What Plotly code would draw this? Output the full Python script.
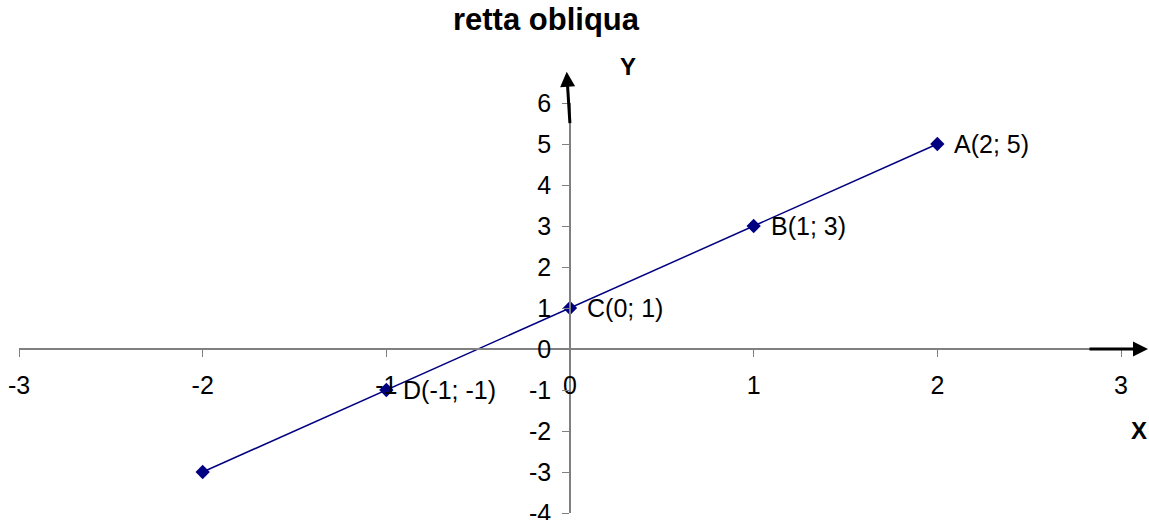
import plotly.graph_objects as go

x_vals = [-2, -1, 0, 1, 2]
y_vals = [-3, -1, 1, 3, 5]
point_labels = ["", "D(-1; -1)", "C(0; 1)", "B(1; 3)", "A(2; 5)"]
x_ticks = [-3, -2, -1, 0, 1, 2, 3]
x_tick_labels = ["-3", "-2", "-1", "0", "1", "2", "3"]
y_ticks = [-4, -3, -2, -1, 0, 1, 2, 3, 4, 5, 6]
y_tick_labels = ["-4", "-3", "-2", "-1", "0", "1", "2", "3", "4", "5", "6"]

FONT = "Liberation Sans, Arial, sans-serif"
NAVY = "#000080"
GRAY = "#808080"

fig = go.Figure()
fig.add_trace(go.Scatter(
    x=x_vals, y=y_vals, mode="lines+markers",
    line=dict(color=NAVY, width=1.5),
    marker=dict(symbol="diamond", size=11, color=NAVY),
    cliponaxis=False, showlegend=False,
))

annotations = []
for xv, yv, lab in zip(x_vals, y_vals, point_labels):
    if lab:
        annotations.append(dict(
            text=lab, x=xv, y=yv, xref="x", yref="y",
            xanchor="left", yanchor="middle", xshift=15, showarrow=False,
            font=dict(family=FONT, size=25, color="black")))

annotations += [
    dict(text="<b>Y</b>", xref="paper", yref="paper", x=0.5522, y=1.089,
         xanchor="center", yanchor="middle",
         showarrow=False, font=dict(family=FONT, size=24, color="black")),
    dict(text="<b>X</b>", xref="paper", yref="paper", x=1.0163, y=0.2024,
         xanchor="center", yanchor="middle",
         showarrow=False, font=dict(family=FONT, size=24, color="black")),
    dict(text="", xref="paper", yref="paper", x=0.497, y=1.0763,
         ax=3.3, ay=53, showarrow=True, arrowhead=2, arrowsize=1,
         arrowwidth=3, arrowcolor="black"),
    dict(text="", xref="paper", yref="paper", x=1.0245, y=0.4,
         ax=-60, ay=0, showarrow=True, arrowhead=2, arrowsize=1,
         arrowwidth=3, arrowcolor="black"),
]

fig.update_layout(
    width=1149, height=520,
    margin=dict(l=19, r=28, t=103, b=7, autoexpand=False),
    paper_bgcolor="white", plot_bgcolor="white",
    title=dict(text="<b>retta obliqua</b>", x=0.4752, xanchor="center",
               y=0.963, yanchor="middle", yref="container",
               font=dict(family=FONT, size=31, color="black")),
    xaxis=dict(range=[-3, 3], domain=[0, 1], anchor="free", position=0.4,
               tickvals=x_ticks, ticktext=x_tick_labels,
               ticks="outside", ticklen=7, tickcolor=GRAY,
               showline=True, linecolor=GRAY, linewidth=1.5,
               showgrid=False, zeroline=False, ticklabelstandoff=7,
               ticklabeloverflow="allow", automargin=False,
               tickfont=dict(family=FONT, size=25, color="black")),
    yaxis=dict(range=[-4, 6], domain=[0, 1], anchor="free", position=0.5,
               tickvals=y_ticks, ticktext=y_tick_labels,
               ticks="outside", ticklen=7, tickcolor=GRAY,
               showline=True, linecolor=GRAY, linewidth=1.5,
               showgrid=False, zeroline=False, ticklabelstandoff=6,
               ticklabeloverflow="allow", automargin=False,
               tickfont=dict(family=FONT, size=25, color="black")),
    annotations=annotations,
)

fig.write_html("out.html", config={"displayModeBar": False},
               post_script="document.body.style.margin='0px';")
